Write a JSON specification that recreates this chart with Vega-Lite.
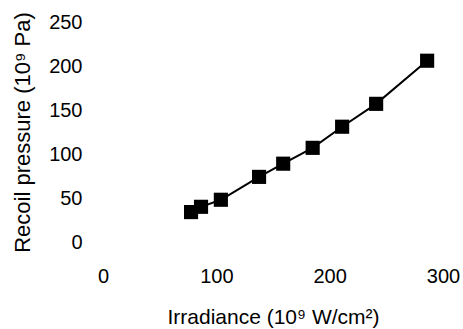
{
  "$schema": "https://vega.github.io/schema/vega-lite/v6.json",
  "autosize": {"type": "none"},
  "padding": {"left": 103, "top": 22, "right": 20, "bottom": 87},
  "width": 340,
  "height": 220,
  "background": "white",
  "config": {
    "view": {"stroke": null},
    "font": "Liberation Sans",
    "axis": {"domain": false, "ticks": false, "grid": false, "labelFlush": false, "labelFont": "Liberation Sans", "titleFont": "Liberation Sans", "labelFontSize": 20, "titleFontSize": 20, "titleFontWeight": "normal", "labelColor": "black", "titleColor": "black"}
  },
  "data": {
    "values": [
      {"irradiance": 77.7, "pressure": 34},
      {"irradiance": 86.5, "pressure": 40},
      {"irradiance": 104, "pressure": 48},
      {"irradiance": 137.7, "pressure": 74},
      {"irradiance": 159, "pressure": 89},
      {"irradiance": 185, "pressure": 107},
      {"irradiance": 211, "pressure": 131},
      {"irradiance": 241, "pressure": 157},
      {"irradiance": 286, "pressure": 206}
    ]
  },
  "encoding": {
    "x": {"field": "irradiance", "type": "quantitative", "scale": {"domain": [0, 300], "nice": false}, "axis": {"values": [0, 100, 200, 300], "title": "Irradiance (10⁹ W/cm²)", "titleFontSize": 21, "labelPadding": 24, "titlePadding": 20}},
    "y": {"field": "pressure", "type": "quantitative", "scale": {"domain": [0, 250], "nice": false}, "axis": {"values": [0, 50, 100, 150, 200, 250], "title": "Recoil pressure (10⁹ Pa)", "titleFontSize": 22, "labelPadding": 21, "titlePadding": 14}}
  },
  "layer": [
    {"mark": {"type": "line", "color": "black", "strokeWidth": 2}},
    {"mark": {"type": "square", "color": "black", "filled": true, "opacity": 1, "size": 200}}
  ]
}
